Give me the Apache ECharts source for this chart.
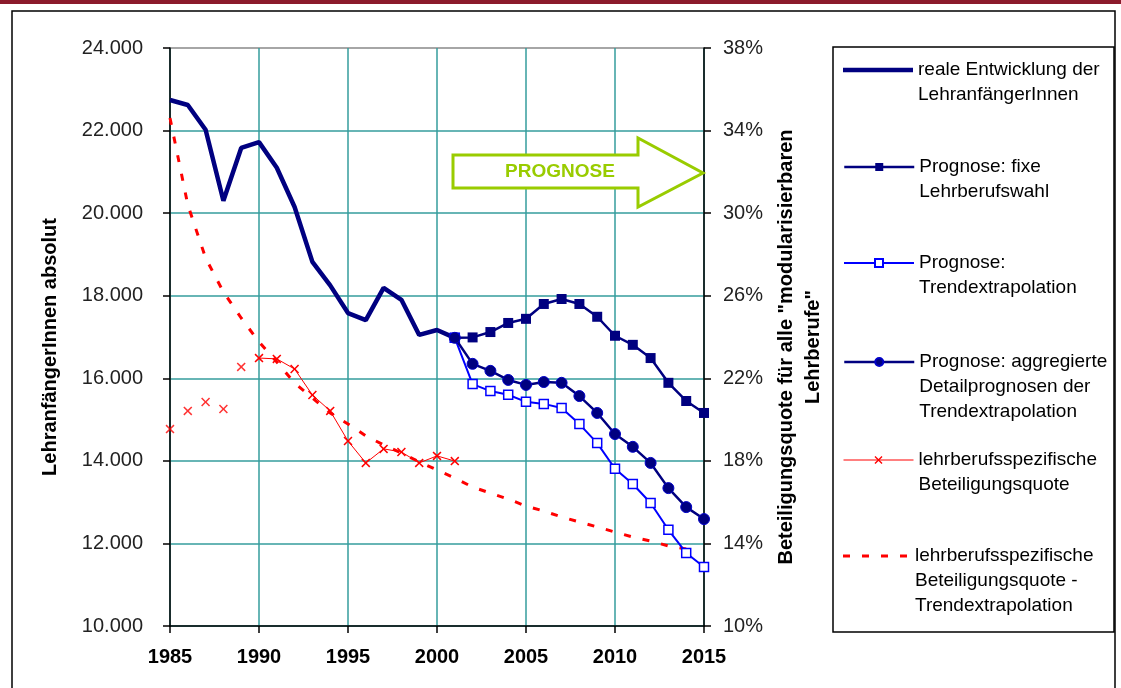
<!DOCTYPE html>
<html>
<head>
<meta charset="utf-8">
<script src="https://cdn.jsdelivr.net/npm/echarts@6/dist/echarts.min.js"></script>
<style>
  html, body { margin: 0; padding: 0; background: #fff; }
  #chart { width: 1121px; height: 688px; }
</style>
</head>
<body>
<div id="chart"></div>
<script>
// Years
const yearsReal = [1985, 1986, 1987, 1988, 1989, 1990, 1991, 1992, 1993, 1994, 1995, 1996, 1997, 1998, 1999, 2000, 2001];
const yearsForecast = [2001, 2002, 2003, 2004, 2005, 2006, 2007, 2008, 2009, 2010, 2011, 2012, 2013, 2014, 2015];
const yearsQuoteLoose = [1985, 1986, 1987, 1988, 1989];
const yearsQuote = [1990, 1991, 1992, 1993, 1994, 1995, 1996, 1997, 1998, 1999, 2000, 2001];
const yearsQuoteTrend = [1985, 1986, 1987, 1988, 1989, 1990, 1991, 1992, 1993, 1994, 1995, 1996, 1997, 1998, 1999,
  2000, 2001, 2002, 2003, 2004, 2005, 2006, 2007, 2008, 2009, 2010, 2011, 2012, 2013, 2014];

// Apprentice entrants (absolute, left axis)
const realEntrants = [22740, 22620, 22020, 20300, 21580, 21720, 21100, 20150, 18820, 18250, 17580, 17410, 18190, 17900, 17050, 17170, 16980];
const forecastFixed = [16980, 16990, 17120, 17340, 17440, 17800, 17920, 17800, 17490, 17030, 16810, 16490, 15890, 15450, 15160];
const forecastTrend = [16980, 15860, 15690, 15600, 15430, 15380, 15280, 14890, 14430, 13810, 13440, 12980, 12330, 11770, 11430];
const forecastAggregated = [16980, 16350, 16180, 15960, 15840, 15910, 15890, 15570, 15160, 14650, 14340, 13950, 13340, 12880, 12590];

// Participation rate in % (right axis)
const quoteLoose = [19.54, 20.42, 20.85, 20.51, 22.55];
const quote = [22.98, 22.94, 22.45, 21.19, 20.42, 18.96, 17.90, 18.58, 18.43, 17.90, 18.24, 17.99];
const quoteTrend = [34.61, 30.40, 27.83, 26.18, 24.92, 23.76, 22.79, 21.77, 21.05, 20.32, 19.79, 19.21, 18.77, 18.38, 17.95,
  17.56, 17.17, 16.73, 16.44, 16.15, 15.81, 15.57, 15.28, 15.04, 14.80, 14.55, 14.31, 14.12, 13.88, 13.73];

// Series names and legend labels
const seriesNames = [
  'reale Entwicklung der LehranfängerInnen',
  'Prognose: fixe Lehrberufswahl',
  'Prognose: Trendextrapolation',
  'Prognose: aggregierte Detailprognosen der Trendextrapolation',
  'lehrberufsspezifische Beteiligungsquote',
  'lehrberufsspezifische Beteiligungsquote - Trendextrapolation'
];
const legendLabels = [
  ['reale Entwicklung der', 'LehranfängerInnen'],
  ['Prognose: fixe', 'Lehrberufswahl'],
  ['Prognose:', 'Trendextrapolation'],
  ['Prognose: aggregierte', 'Detailprognosen der', 'Trendextrapolation'],
  ['lehrberufsspezifische', 'Beteiligungsquote'],
  ['lehrberufsspezifische', 'Beteiligungsquote -', 'Trendextrapolation']
];
const xTicks = { min: 1985, max: 2015, interval: 5 };
const yLeftTicks = { min: 10000, max: 24000, interval: 2000 };
const yRightTicks = { min: 10, max: 38, interval: 4 };

const pairs = (xs, ys) => xs.map((x, i) => [x, ys[i]]);

const NAVY = '#000080';
const BLUE = '#0000ff';
const RED = '#ff0000';
const GRID_TEAL = '#349c9c';
const FONT = 'Liberation Sans, Arial, sans-serif';
const CROSS = 'path://M0,1.2L1.2,0L5,3.8L8.8,0L10,1.2L6.2,5L10,8.8L8.8,10L5,6.2L1.2,10L0,8.8L3.8,5Z';
const DASH_ICON = 'path://M0,0h7v3h-7z M19,0h7v3h-7z M38,0h7v3h-7z M57,0h7v3h-7z';

// legend layout: one legend block per entry; blank leading lines keep the
// icon level with the first text line
const LEG_LINE_H = 25;
const legendIconY = [70, 167, 263, 362, 460, 556];
const legendLineWidth = [4.5, 2.5, 2, 2.5, 1, 3];
const legendIcons = ['rect', null, null, null, null, DASH_ICON];
const legendIconH = [4.5, 10, 10, 10, 10, 3];
const legends = seriesNames.map((name, i) => {
  const lines = legendLabels[i];
  const n = lines.length;
  const padded = new Array(n - 1).fill('\u00a0').concat(lines).join('\n');
  const item = { name: name };
  if (legendIcons[i]) {
    item.icon = legendIcons[i];
    item.itemStyle = { color: i === 0 ? NAVY : RED };
  }
  return {
    data: [item],
    left: 843,
    top: legendIconY[i] - (2 * n - 1) * LEG_LINE_H / 2,
    padding: 0,
    itemWidth: 70,
    itemHeight: legendIconH[i],
    selectedMode: false,
    lineStyle: { width: legendLineWidth[i] },
    formatter: () => padded,
    textStyle: { fontFamily: FONT, fontSize: 19, color: '#000', lineHeight: LEG_LINE_H }
  };
});

const splitColors = [];
for (let v = yLeftTicks.min; v <= yLeftTicks.max; v += yLeftTicks.interval) {
  splitColors.push(v === yLeftTicks.max ? '#888888' : GRID_TEAL);
}

const chart = echarts.init(document.getElementById('chart'), null, { renderer: 'canvas' });

chart.setOption({
  animation: false,
  backgroundColor: '#ffffff',
  textStyle: { fontFamily: FONT },
  grid: { left: 170, right: 417, top: 48, bottom: 62 },
  legend: legends,
  xAxis: {
    type: 'value',
    min: xTicks.min,
    max: xTicks.max,
    interval: xTicks.interval,
    axisLine: { lineStyle: { color: '#000', width: 1.5 } },
    axisTick: { length: 7, lineStyle: { color: '#000', width: 1.5 } },
    axisLabel: { fontFamily: FONT, fontWeight: 'bold', fontSize: 20, color: '#000', margin: 21, formatter: v => String(v) },
    splitLine: { show: true, lineStyle: { color: GRID_TEAL, width: 1.5 } }
  },
  yAxis: [
    {
      type: 'value',
      position: 'left',
      min: yLeftTicks.min,
      max: yLeftTicks.max,
      interval: yLeftTicks.interval,
      name: 'LehranfängerInnen absolut',
      nameLocation: 'middle',
      nameRotate: 90,
      nameGap: 110,
      nameTextStyle: { fontFamily: FONT, fontWeight: 'bold', fontSize: 20, color: '#000', padding: [0, 20, 0, 0] },
      axisLine: { show: true, lineStyle: { color: '#000', width: 1.5 } },
      axisTick: { show: true, length: 7, lineStyle: { color: '#000', width: 1.5 } },
      axisLabel: {
        fontFamily: FONT, fontSize: 20, color: '#222', margin: 27,
        formatter: v => (v / 1000).toFixed(3)
      },
      splitLine: { show: true, lineStyle: { color: splitColors, width: 1.5 } }
    },
    {
      type: 'value',
      position: 'right',
      min: yRightTicks.min,
      max: yRightTicks.max,
      interval: yRightTicks.interval,
      name: 'Beteiligungsquote für alle "modularisierbaren\nLehrberufe"',
      nameLocation: 'middle',
      nameRotate: 90,
      nameGap: 69,
      nameTextStyle: { fontFamily: FONT, fontWeight: 'bold', fontSize: 20, color: '#000', lineHeight: 27, padding: [0, 20, 0, 0] },
      axisLine: { show: true, lineStyle: { color: '#000', width: 1.5 } },
      axisTick: { show: true, length: 7, lineStyle: { color: '#000', width: 1.5 } },
      axisLabel: { fontFamily: FONT, fontSize: 20, color: '#222', margin: 19, formatter: '{value}%' },
      splitLine: { show: false }
    }
  ],
  series: [
    {
      name: seriesNames[4],
      type: 'line',
      yAxisIndex: 1,
      data: pairs(yearsQuote, quote),
      symbol: CROSS,
      symbolSize: 9,
      lineStyle: { color: RED, width: 1 },
      itemStyle: { color: RED },
      z: 2
    },
    {
      name: seriesNames[4],
      type: 'scatter',
      yAxisIndex: 1,
      data: pairs(yearsQuoteLoose, quoteLoose),
      symbol: CROSS,
      symbolSize: 9,
      itemStyle: { color: RED },
      z: 2
    },
    {
      name: seriesNames[5],
      type: 'line',
      yAxisIndex: 1,
      data: pairs(yearsQuoteTrend, quoteTrend),
      symbol: 'none',
      lineStyle: { color: RED, width: 3, type: [7, 12] },
      itemStyle: { color: RED },
      z: 2
    },
    {
      name: seriesNames[0],
      type: 'line',
      data: pairs(yearsReal, realEntrants),
      symbol: 'none',
      lineStyle: { color: NAVY, width: 4.5 },
      itemStyle: { color: NAVY },
      z: 3
    },
    {
      name: seriesNames[1],
      type: 'line',
      data: pairs(yearsForecast, forecastFixed),
      symbol: 'rect',
      symbolSize: 10,
      showAllSymbol: true,
      lineStyle: { color: NAVY, width: 2.5 },
      itemStyle: { color: NAVY },
      z: 3
    },
    {
      name: seriesNames[2],
      type: 'line',
      data: pairs(yearsForecast, forecastTrend),
      symbol: 'rect',
      symbolSize: 9,
      showAllSymbol: true,
      lineStyle: { color: BLUE, width: 2 },
      itemStyle: { color: '#ffffff', borderColor: BLUE, borderWidth: 1.5 },
      z: 4
    },
    {
      name: seriesNames[3],
      type: 'line',
      data: pairs(yearsForecast, forecastAggregated),
      symbol: 'circle',
      symbolSize: 11,
      showAllSymbol: true,
      lineStyle: { color: NAVY, width: 2.5 },
      itemStyle: { color: NAVY, borderColor: '#0000c8', borderWidth: 1 },
      z: 5
    }
  ],
  graphic: [
    { type: 'rect', shape: { x: 0, y: 0, width: 1121, height: 4 }, style: { fill: '#8b1a2b' }, silent: true, z: -10 },
    { type: 'rect', shape: { x: 12, y: 11, width: 1103, height: 700 }, style: { fill: 'none', stroke: '#000', lineWidth: 1.5 }, silent: true, z: -10 },
    { type: 'rect', shape: { x: 833, y: 47, width: 281, height: 585 }, style: { fill: '#fff', stroke: '#000', lineWidth: 1.5 }, silent: true, z: -5 },
    {
      type: 'polygon',
      shape: { points: [[453, 155], [638, 155], [638, 138], [703, 173], [638, 207], [638, 188], [453, 188]] },
      style: { fill: '#ffffff', stroke: '#99cc00', lineWidth: 3, lineJoin: 'miter' },
      silent: true,
      z: 10
    },
    {
      type: 'text',
      x: 560, y: 172,
      style: { text: 'PROGNOSE', fill: '#99cc00', font: 'bold 19px ' + FONT, align: 'center', verticalAlign: 'middle' },
      silent: true,
      z: 11
    }
  ]
});
</script>
</body>
</html>
